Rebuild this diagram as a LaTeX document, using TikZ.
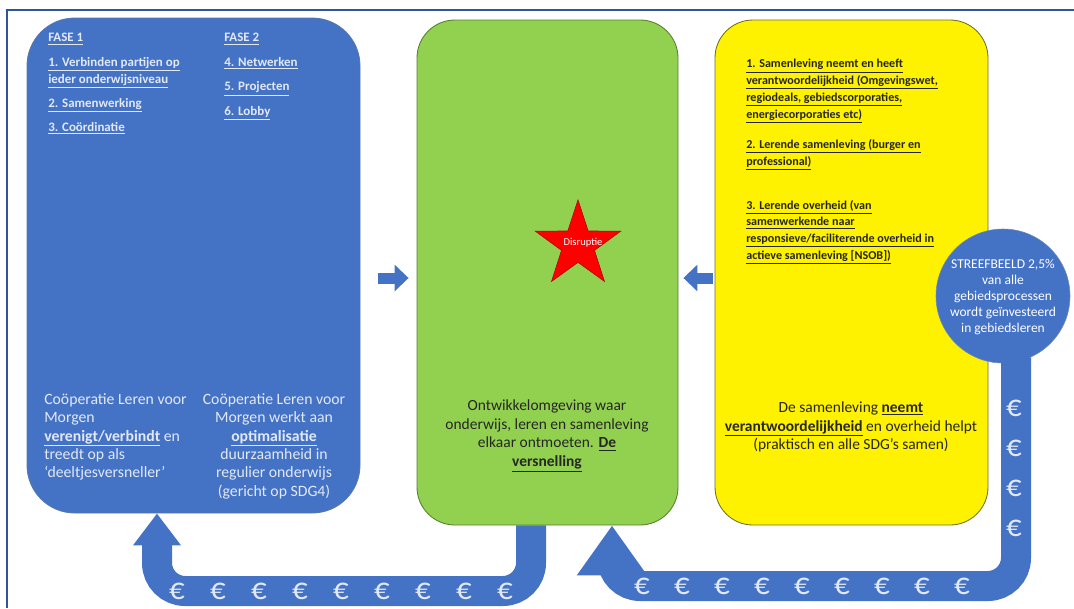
\documentclass[tikz,border=0pt]{standalone}
\usepackage{fontspec}
\setmainfont{Carlito}
\usepackage{tikz}
\usetikzlibrary{positioning}
\usetikzlibrary{calc}
\usetikzlibrary{shapes.geometric}
\usetikzlibrary{arrows.meta}
\definecolor{officeblue}{HTML}{4472C4}
\definecolor{frameblue}{HTML}{2F5597}
\definecolor{leafgreen}{HTML}{92D050}
\definecolor{paleblue}{HTML}{E2E9F5}
\definecolor{darkolive}{HTML}{6E6E28}
\tikzset{
  panel/.style = {
    rectangle, draw, line width=0.6pt, inner sep=0pt  }
}
\newcommand{\ulb}[1]{\underline{\textbf{#1}}}
\def\pxu{0.025cm}

\begin{document}
\begin{tikzpicture}[x=0.025cm, y=-0.025cm,
euro_style/.style={text=paleblue, font=\fontsize{22}{22}\selectfont, inner sep=0pt},
band_style/.style={draw=officeblue, line width=30*\pxu, rounded corners=20pt},
gap_arrow/.style={draw=officeblue, line width=11*\pxu, -{Triangle[length=10pt,width=18.5pt]}},
small_text/.style={font=\bfseries\fontsize{9.2}{12}\selectfont, align=left, inner sep=0pt, anchor=north west},
body_text/.style={font=\fontsize{11.2}{13.1}\selectfont, inner sep=0pt}]
\useasboundingbox (0,0) rectangle (1074,608);
\draw[frameblue, line width=2*\pxu] (7,608) -- (7,10) -- (1074,10);

\node[panel, fill=officeblue, draw=frameblue!80, rounded corners=34pt,
  minimum width=333*\pxu, minimum height=495*\pxu] (blue) at (193.5,265.5) {};
\node[panel, fill=leafgreen, draw=leafgreen!60!black, rounded corners=27pt,
  minimum width=261*\pxu, minimum height=505*\pxu] (green) at (547.5,272.5) {};
\node[panel, fill=yellow, draw=darkolive, rounded corners=27pt,
  minimum width=273*\pxu, minimum height=505*\pxu] (yellow) at (851.5,272.5) {};

% euro flows
\draw[band_style, -{Triangle[length=22.8pt,width=32.7pt]}] ($(green.south)+(-16.5,0)$) -- (531,591) -- (157,591) -- ($(blue.south)+(-36.5,0)$);
\node[circle, fill=officeblue, draw=frameblue!70, minimum size=134*\pxu, inner sep=0pt] (goal) at (1003,296) {};
\draw[band_style, -{Triangle[length=35.6pt,width=47.7pt]}] ($(goal.south)+(13,-6)$) -- (1016,586) -- (612,586) -- ($(green.south)+(64.5,0)$);

\foreach \x in {0,...,8}{
 \node[euro_style] (el\x) at (177+41*\x,591) {€};
 \node[euro_style] (er\x) at (642+40*\x,586) {€};
}
\foreach \y in {0,...,3}{
 \node[euro_style] (ev\y) at (1014,408+40*\y) {€};
}

\draw[gap_arrow] ($(blue.east)+(18,12.5)$) -- ($(green.west)+(-8,5.5)$);
\draw[gap_arrow] ($(yellow.west)+(-2,5.5)$) -- ($(green.east)+(5,5.5)$);

\node[star, star points=5, star point ratio=2.6, fill=red, draw=red!70!black,
  minimum size=2.25cm, inner sep=0pt] (disruptie) at (578,245) {};
\node[text=white, font=\fontsize{7.5}{8}\selectfont, inner sep=0pt] (disruptie_text) at (583,243) {Disruptie};

\node[small_text, text=paleblue] (fase1) at (48,33) {\ulb{FASE 1}\\[5.5pt]
  \ulb{1. Verbinden partijen op}\\ \ulb{ieder onderwijsniveau}\\[5pt]
  \ulb{2. Samenwerking}\\[5pt] \ulb{3. Coördinatie}};
\node[small_text, text=paleblue] (fase2) at (224,33) {\ulb{FASE 2}\\[5.5pt]
  \ulb{4. Netwerken}\\[5.5pt] \ulb{5. Projecten}\\[5.5pt] \ulb{6. Lobby}};

\node[body_text, text=paleblue, align=left, anchor=north west] (blue_left) at (44,393)
  {Coöperatie Leren voor\\ Morgen\\ \ulb{verenigt/verbindt} en\\ treedt op als\\ ‘deeltjesversneller’};
\node[body_text, text=paleblue, align=center, anchor=north] (blue_right) at (274,393)
  {Coöperatie Leren voor\\ Morgen werkt aan\\ \ulb{optimalisatie}\\ duurzaamheid in\\ regulier onderwijs\\ (gericht op SDG4)};

\node[body_text, font=\fontsize{11}{13.5}\selectfont, text=black!85, align=center, anchor=north] (green_text) at (547,399)
  {Ontwikkelomgeving waar\\ onderwijs, leren en samenleving\\ elkaar ontmoeten. \ulb{De}\\ \ulb{versnelling}};

\node[small_text, font=\bfseries\fontsize{8.6}{12}\selectfont, text=black!85] (yellow_top) at (746,59)
  {\ulb{1. Samenleving neemt en heeft}\\ \ulb{verantwoordelijkheid (Omgevingswet,}\\
   \ulb{regiodeals, gebiedscorporaties,}\\ \ulb{energiecorporaties etc)}\\[9.5pt]
   \ulb{2. Lerende samenleving (burger en}\\ \ulb{professional)}\\[19pt]
   \ulb{3. Lerende overheid (van}\\ \ulb{samenwerkende naar}\\
   \ulb{responsieve/faciliterende overheid in}\\ \ulb{actieve samenleving [NSOB])}};
\node[body_text, font=\fontsize{11}{13.5}\selectfont, text=black!85, align=center, anchor=north] (yellow_bottom) at (851,401)
  {De samenleving \ulb{neemt}\\ \ulb{verantwoordelijkheid} en overheid helpt\\ (praktisch en alle SDG’s samen)};

\node[text=white, font=\fontsize{9.6}{11.5}\selectfont, align=center, inner sep=0pt] (goal_text) at (1003,297)
  {STREEFBEELD 2,5\%\\ van alle\\ gebiedsprocessen\\ wordt geïnvesteerd\\ in gebiedsleren};
\end{tikzpicture}
\end{document}
